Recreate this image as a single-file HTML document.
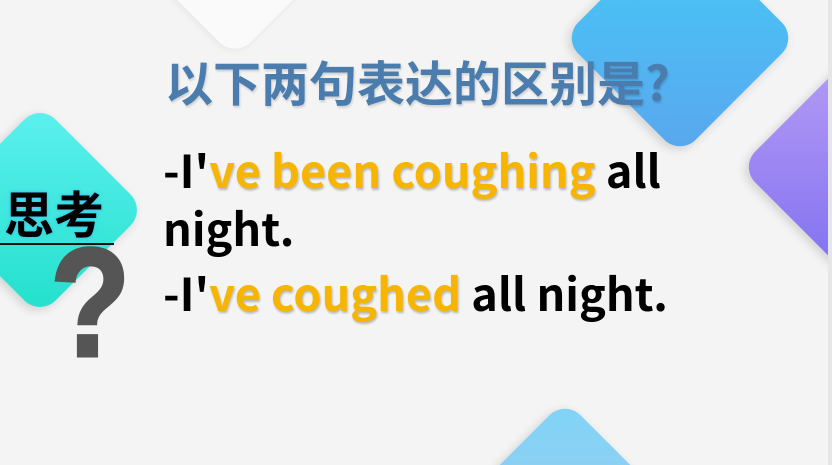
<!DOCTYPE html>
<html><head><meta charset="utf-8"><style>
html,body{margin:0;width:832px;height:465px;overflow:hidden}
#wrap{position:relative;width:832px;height:465px;overflow:hidden;background:#f4f4f4;font-family:"Liberation Sans","Noto Sans CJK SC",sans-serif}
.d{position:absolute;border-radius:22px;transform:rotate(45deg);box-shadow:0 4px 10px rgba(0,0,0,.15)}
.t{position:absolute;font-weight:bold;white-space:nowrap}
.y{color:#f7b500;text-shadow:1px 2px 2px rgba(0,0,0,.25)}
</style></head><body>
<div id="wrap">
<div class="d" style="left:180px;top:-75px;width:110px;height:110px;background:#fafafa;box-shadow:0 2px 8px rgba(0,0,0,.06)"></div>
<div class="d" style="left:597px;top:-45px;width:166px;height:166px;background:linear-gradient(135deg,#44ccf8,#5aa6ee)"></div>
<div class="d" style="left:772px;top:89px;width:156px;height:156px;background:linear-gradient(135deg,#b69cf5,#8070f0)"></div>
<div class="d" style="left:487px;top:432px;width:156px;height:156px;background:linear-gradient(135deg,#7fd4f6,#a9c8f0)"></div>
<div style="position:absolute;left:828px;top:0;width:4px;height:465px;background:#e6e6e6"></div>
<div class="d" style="left:-35px;top:135px;width:150px;height:150px;background:linear-gradient(135deg,#5ef0f0,#22e0cc)"></div>
<div class="t" style="left:4px;top:176px;font-size:50px;color:#000;font-family:'Noto Sans CJK SC',sans-serif;text-shadow:0 0 4px #3cc7ef,0 0 2px #3cc7ef">思考</div>
<div style="position:absolute;left:0;top:243px;width:114px;height:2px;background:#111"></div>
<div class="t" style="left:50px;top:228px;font-size:155px;color:#555;font-family:'Liberation Sans',sans-serif;line-height:150px;transform:scaleX(0.85);transform-origin:left top;-webkit-text-stroke:3px #555">?</div>
<div class="t" style="left:165px;top:50px;font-size:48px;color:#4a7cad;font-family:'Noto Sans CJK SC',sans-serif;line-height:60px;text-shadow:1px 2px 2px rgba(0,0,0,.15)">以下两句表达的区别是?</div>
<div class="t" style="left:163px;top:140px;font-size:45px;line-height:58px;color:#000;font-family:'Noto Sans CJK SC',sans-serif">-I'<span class="y">ve been coughing</span> all<br>night.</div>
<div class="t" style="left:163px;top:263px;font-size:45px;line-height:58px;color:#000;font-family:'Noto Sans CJK SC',sans-serif">-I'<span class="y">ve coughed</span> all night.</div>
</div>
</body></html>
